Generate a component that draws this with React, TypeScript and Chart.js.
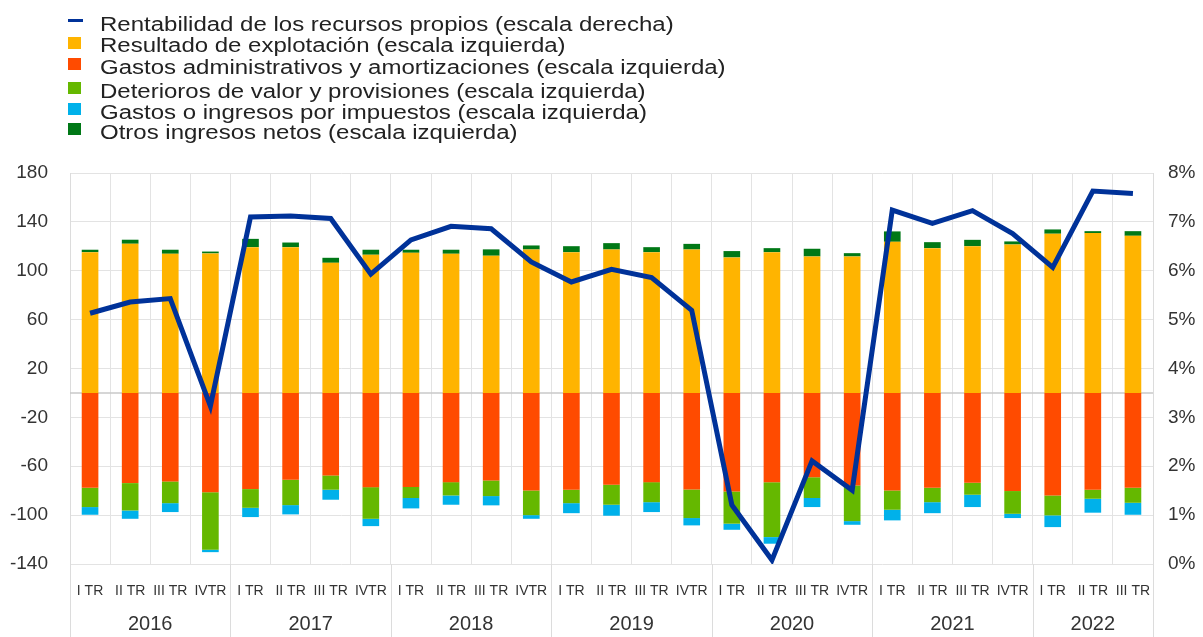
import React, { useEffect, useRef } from 'react';
import { Chart, registerables } from 'chart.js';

Chart.register(...registerables);

const quarterLabels = [
  'I TR', 'II TR', 'III TR', 'IVTR',
  'I TR', 'II TR', 'III TR', 'IVTR',
  'I TR', 'II TR', 'III TR', 'IVTR',
  'I TR', 'II TR', 'III TR', 'IVTR',
  'I TR', 'II TR', 'III TR', 'IVTR',
  'I TR', 'II TR', 'III TR', 'IVTR',
  'I TR', 'II TR', 'III TR',
];
const years = ['2016', '2017', '2018', '2019', '2020', '2021', '2022'];
const quartersPerYear = [4, 4, 4, 4, 4, 4, 3];

const roe = [5.13, 5.36, 5.43, 3.23, 7.10, 7.12, 7.07, 5.93, 6.63, 6.91, 6.86, 6.18, 5.77, 6.03, 5.86, 5.19, 1.21, 0.08, 2.11, 1.51, 7.24, 6.97, 7.23, 6.76, 6.07, 7.63, 7.58];
const operatingResult = [115.2, 122.1, 113.9, 114.2, 119.3, 119.3, 106.5, 113.1, 114.7, 113.9, 112.3, 117.4, 115.2, 117.4, 115.2, 117.4, 110.9, 115.2, 111.7, 111.7, 123.7, 118.5, 120.1, 121.5, 130.3, 130.8, 128.6];
const adminExpenses = [-77.6, -73.8, -72.4, -81.2, -78.7, -71.0, -67.5, -77.1, -77.0, -73.0, -71.6, -79.8, -79.2, -75.1, -73.0, -79.0, -80.6, -73.0, -69.0, -75.7, -79.8, -77.6, -73.5, -80.3, -83.9, -79.2, -77.6];
const impairments = [-15.8, -22.4, -17.8, -47.1, -15.3, -20.8, -11.7, -25.9, -9.0, -10.9, -12.8, -20.2, -11.0, -16.4, -16.4, -23.4, -26.4, -45.0, -17.0, -29.2, -15.8, -11.8, -9.8, -18.6, -16.3, -7.4, -12.3];
const taxes = [-6.3, -6.8, -7.3, -2.0, -7.6, -7.6, -8.2, -6.0, -8.5, -7.6, -7.6, -3.0, -8.2, -9.0, -8.1, -6.0, -5.0, -5.4, -7.4, -3.0, -8.7, -9.0, -10.1, -3.5, -9.6, -11.4, -9.8];
const otherIncome = [2.0, 3.3, 3.3, 1.5, 6.8, 3.8, 4.1, 4.1, 2.5, 3.3, 5.2, 3.3, 4.9, 5.2, 4.1, 4.6, 5.2, 3.3, 6.3, 2.7, 8.5, 4.9, 5.2, 2.5, 3.5, 1.6, 3.8];

const seriesNames = [
  'Rentabilidad de los recursos propios (escala derecha)',
  'Resultado de explotación (escala izquierda)',
  'Gastos administrativos y amortizaciones (escala izquierda)',
  'Deterioros de valor y provisiones (escala izquierda)',
  'Gastos o ingresos por impuestos (escala izquierda)',
  'Otros ingresos netos (escala izquierda)',
];
const seriesColors = ['#003299', '#FFB400', '#FF4B00', '#65B800', '#00B1EA', '#007816'];

const FONT = '"Liberation Sans", Arial, sans-serif';
const TEXT = '#333333';

const yearPlugin = {
  id: 'yearGroups',
  beforeDatasetsDraw(chart: any) {
    const { ctx, scales } = chart;
    const y = scales.y;
    const area = chart.chartArea;
    const y0 = y.getPixelForValue(0);
    ctx.save();
    ctx.strokeStyle = '#c8c8c8';
    ctx.lineWidth = 1.5;
    ctx.beginPath();
    ctx.moveTo(area.left, y0);
    ctx.lineTo(area.right, y0);
    ctx.stroke();
    ctx.restore();
  },
  afterDraw(chart: any) {
    const { ctx, scales } = chart;
    const x = scales.x;
    const area = chart.chartArea;
    const step = x.getPixelForValue(1) - x.getPixelForValue(0);
    ctx.save();
    ctx.strokeStyle = '#dcdcdc';
    ctx.lineWidth = 1;
    let idx = 0;
    const edges: number[] = [];
    edges.push(x.getPixelForValue(0) - step / 2);
    quartersPerYear.forEach((n) => {
      idx += n;
      edges.push(x.getPixelForValue(idx - 1) + step / 2);
    });
    edges.forEach((ex) => {
      const px = Math.round(ex) + 0.5;
      ctx.beginPath();
      ctx.moveTo(px, area.bottom);
      ctx.lineTo(px, chart.height);
      ctx.stroke();
    });
    ctx.fillStyle = TEXT;
    ctx.font = `20px ${FONT}`;
    ctx.textAlign = 'center';
    ctx.textBaseline = 'middle';
    years.forEach((yr, i) => {
      ctx.fillText(yr, (edges[i] + edges[i + 1]) / 2, 624);
    });
    ctx.restore();
  },
};

const legendTextCenters = [24, 45, 66.5, 91, 111.5, 131.5];
const legendMarkerCenters = [20, 42.5, 64, 88, 109, 129];

export default function App() {
  const canvasRef = useRef<HTMLCanvasElement | null>(null);

  useEffect(() => {
    document.body.style.margin = '0';
    const canvas = canvasRef.current;
    if (!canvas) return;
    const chart = new Chart(canvas, {
      type: 'bar',
      data: {
        labels: quarterLabels,
        datasets: [
          {
            type: 'line',
            label: seriesNames[0],
            data: roe,
            yAxisID: 'y1',
            borderColor: seriesColors[0],
            backgroundColor: seriesColors[0],
            borderWidth: 5,
            pointRadius: 0,
            tension: 0,
            borderJoinStyle: 'miter',
          } as any,
          { label: seriesNames[1], data: operatingResult, backgroundColor: seriesColors[1], yAxisID: 'y' },
          { label: seriesNames[2], data: adminExpenses, backgroundColor: seriesColors[2], yAxisID: 'y' },
          { label: seriesNames[3], data: impairments, backgroundColor: seriesColors[3], yAxisID: 'y' },
          { label: seriesNames[4], data: taxes, backgroundColor: seriesColors[4], yAxisID: 'y' },
          { label: seriesNames[5], data: otherIncome, backgroundColor: seriesColors[5], yAxisID: 'y' },
        ],
      },
      options: {
        responsive: false,
        animation: false,
        datasets: { bar: { categoryPercentage: 1, barPercentage: 0.415 } },
        layout: { padding: { top: 173, left: 0, right: 0, bottom: 0 } },
        plugins: { legend: { display: false }, tooltip: { enabled: false } },
        scales: {
          x: {
            stacked: true,
            offset: true,
            grid: { offset: true, color: '#e3e3e3', drawTicks: false },
            border: { display: false },
            ticks: {
              autoSkip: false,
              maxRotation: 0,
              minRotation: 0,
              padding: 19,
              color: TEXT,
              font: { family: FONT, size: 14 },
            },
            afterFit: (s: any) => { s.height = 73; },
          },
          y: {
            stacked: true,
            position: 'left',
            min: -140,
            max: 180,
            grid: { color: '#e3e3e3', drawTicks: false },
            border: { display: true, color: '#dcdcdc' },
            ticks: { stepSize: 40, padding: 22, color: TEXT, font: { family: FONT, size: 19 } },
            afterFit: (s: any) => { s.width = 70; },
          },
          y1: {
            position: 'right',
            min: 0,
            max: 8,
            grid: { display: false, drawTicks: false },
            border: { display: true, color: '#dcdcdc' },
            ticks: {
              stepSize: 1,
              padding: 15,
              color: TEXT,
              font: { family: FONT, size: 19 },
              callback: (v: any) => `${v}%`,
            },
            afterFit: (s: any) => { s.width = 50; },
          },
        },
      } as any,
      plugins: [yearPlugin],
    });
    return () => chart.destroy();
  }, []);

  return (
    <div style={{ position: 'relative', width: 1203, height: 637, background: '#ffffff' }}>
      <canvas ref={canvasRef} width={1203} height={637} style={{ position: 'absolute', left: 0, top: 0 }} />
      {seriesNames.map((name, i) => (
        <React.Fragment key={name}>
          <div
            style={{
              position: 'absolute',
              left: 68,
              top: legendMarkerCenters[i] - (i === 0 ? 1.5 : 6),
              width: i === 0 ? 15 : 13,
              height: i === 0 ? 3 : 12,
              background: seriesColors[i],
            }}
          />
          <div
            style={{
              position: 'absolute',
              left: 100,
              top: legendTextCenters[i] - 12,
              height: 24,
              lineHeight: '24px',
              fontFamily: FONT,
              fontSize: 20,
              color: '#222222',
              whiteSpace: 'nowrap',
              transform: 'scaleX(1.2)',
              transformOrigin: 'left center',
            }}
          >
            {name}
          </div>
        </React.Fragment>
      ))}
    </div>
  );
}
